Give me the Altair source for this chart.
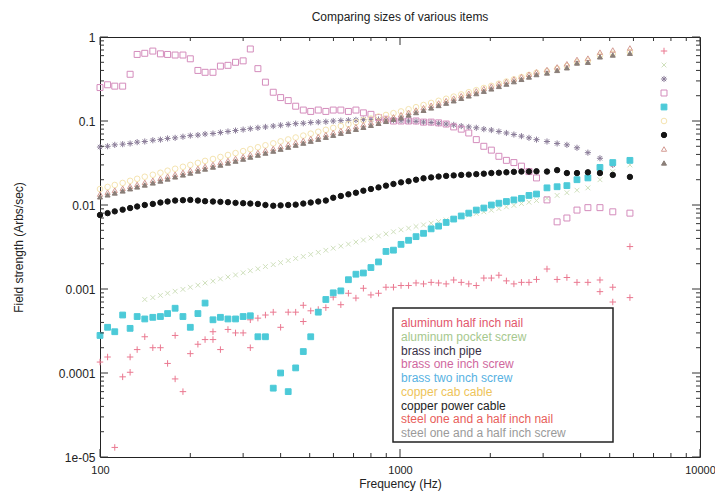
import altair as alt
import pandas as pd

TITLE = "Comparing sizes of various items"
X_TITLE = "Frequency (Hz)"
Y_TITLE = "Field strength (Arbs/sec)"

SERIES = [
    "aluminum half inch nail",
    "aluminum pocket screw",
    "brass inch pipe",
    "brass one inch screw",
    "brass two inch screw",
    "copper cab cable",
    "copper power cable",
    "steel one and a half inch nail",
    "steel one and a half inch screw",
]

FREQ = [100, 106, 112, 119, 126, 133, 141, 150, 159, 168,
        178, 189, 200, 212, 224, 238, 252, 267, 283, 300,
        317, 336, 356, 378, 400, 424, 449, 476, 504, 534,
        566, 599, 635, 673, 713, 755, 800, 848, 898, 951,
        1008, 1068, 1131, 1198, 1270, 1345, 1425, 1510, 1600, 1695,
        1796, 1903, 2016, 2136, 2263, 2397, 2540, 2691, 2851, 3090,
        3340, 3600, 3890, 4230, 4640, 5120, 5840]

AL_NAIL = [1.35e-4, 1.55e-4, None, None, 1.55e-4, 1.9e-4, 2.7e-4, 2.0e-4, 2.0e-4, None,
           2.8e-4, None, 1.7e-4, 2.2e-4, 2.5e-4, 3.1e-4, 1.9e-4, 3.3e-4, 3.0e-4, 3.0e-4,
           2.0e-4, 4.5e-4, 4.9e-4, 5.3e-4, 3.5e-4, 5.3e-4, 5.3e-4, 6.4e-4, 5.5e-4, 5.7e-4,
           6.0e-4, 8.0e-4, 6.5e-4, 8.9e-4, 7.8e-4, 1.02e-3, 8.5e-4, 8.9e-4, 1.05e-3, 1.05e-3,
           1.1e-3, 1.1e-3, 1.18e-3, 1.15e-3, 1.2e-3, 1.18e-3, 1.15e-3, 1.28e-3, 1.2e-3, 1.15e-3,
           1.1e-3, 1.35e-3, 1.35e-3, 1.46e-3, 1.25e-3, 1.15e-3, 1.2e-3, 1.2e-3, 1.3e-3, 1.73e-3,
           1.3e-3, 1.37e-3, 1.2e-3, 1.2e-3, 1.28e-3, 1.05e-3, 3.2e-3]
AL_NAIL_LOW_FREQ = [112, 119, 126, 168, 178, 189, 238, 317, 476, 4640, 5120, 5840]
AL_NAIL_LOW = [1.3e-5, 9.0e-5, 1.02e-4, 1.3e-4, 8.5e-5, 6.0e-5, 2.5e-4, 4.3e-4, 4.1e-4, 9.3e-4, 7.0e-4, 7.9e-4]

AL_SCREW = [None, None, None, None, None, None, 7.5e-4, 7.9e-4, 8.4e-4, 8.9e-4,
            9.4e-4, 9.9e-4, 1.05e-3, 1.11e-3, 1.18e-3, 1.24e-3, 1.32e-3, 1.39e-3, 1.47e-3, 1.56e-3,
            1.65e-3, 1.74e-3, 1.85e-3, 1.95e-3, 2.06e-3, 2.18e-3, 2.31e-3, 2.44e-3, 2.58e-3, 2.73e-3,
            2.89e-3, 3.06e-3, 3.24e-3, 3.42e-3, 3.62e-3, 3.83e-3, 4.05e-3, 4.28e-3, 4.53e-3, 4.8e-3,
            5.07e-3, 5.3e-3, 5.55e-3, 5.8e-3, 6.07e-3, 6.34e-3, 6.63e-3, 6.93e-3, 7.25e-3, 7.59e-3,
            7.93e-3, 8.3e-3, 8.67e-3, 9.07e-3, 9.5e-3, 9.9e-3, 1.04e-2, 1.08e-2, 1.13e-2, 1.2e-2,
            1.3e-2, 1.4e-2, 1.5e-2, 1.6e-2, 2.0e-2, 2.5e-2, 3.0e-2]

BRASS_PIPE = [0.049, 0.050, 0.052, 0.053, 0.054, 0.056, 0.057, 0.059, 0.060, 0.062,
              0.063, 0.065, 0.067, 0.068, 0.070, 0.071, 0.073, 0.075, 0.077, 0.079,
              0.081, 0.083, 0.085, 0.087, 0.089, 0.091, 0.093, 0.094, 0.096, 0.097,
              0.098, 0.100, 0.101, 0.102, 0.103, 0.104, 0.104, 0.104, 0.103, 0.102,
              0.101, 0.100, 0.099, 0.097, 0.096, 0.094, 0.092, 0.090, 0.087, 0.085,
              0.083, 0.080, 0.078, 0.075, 0.072, 0.069, 0.066, 0.063, 0.060, 0.057,
              0.054, 0.052, 0.048, 0.042, 0.036, 0.030, None]

BRASS_ONE = [0.25, 0.27, 0.26, 0.26, 0.36, 0.62, 0.64, 0.68, 0.63, 0.62,
             0.61, 0.61, 0.55, 0.40, 0.38, 0.38, 0.45, 0.46, 0.50, 0.52,
             0.72, 0.42, 0.29, 0.22, 0.19, 0.175, 0.15, 0.135, 0.13, 0.135,
             0.13, 0.135, 0.135, 0.13, 0.135, 0.125, 0.12, 0.11, 0.105, 0.10,
             0.10, 0.10, 0.10, 0.097, 0.097, 0.095, 0.092, 0.085, 0.08, 0.072,
             0.06, 0.05, 0.045, 0.038, 0.034, 0.032, 0.029, 0.025, 0.021, 0.0115,
             0.0063, 0.007, 0.0087, 0.0093, 0.0093, 0.0083, 0.008]

BRASS_TWO = [2.8e-4, 3.5e-4, 3.1e-4, 4.9e-4, 3.4e-4, 4.7e-4, 4.4e-4, 4.6e-4, 4.7e-4, 5.1e-4,
             5.9e-4, 4.7e-4, 3.5e-4, 5.1e-4, 6.8e-4, 4.3e-4, 4.6e-4, 4.4e-4, 4.4e-4, 4.7e-4,
             4.8e-4, 2.7e-4, 2.7e-4, 6.6e-5, 1.0e-4, 6.0e-5, 1.15e-4, 1.8e-4, 2.7e-4, 5.3e-4,
             7.5e-4, 9.0e-4, 9.5e-4, 1.29e-3, 1.5e-3, 1.55e-3, 1.8e-3, 2.1e-3, 2.8e-3, 2.9e-3,
             3.4e-3, 3.8e-3, 4.2e-3, 4.6e-3, 5.2e-3, 5.6e-3, 6.2e-3, 6.8e-3, 7.4e-3, 8.0e-3,
             8.7e-3, 9.2e-3, 1.0e-2, 1.05e-2, 1.1e-2, 1.15e-2, 1.2e-2, 1.3e-2, 1.35e-2, 1.6e-2,
             1.65e-2, 1.7e-2, 2.0e-2, 2.1e-2, 2.8e-2, 3.2e-2, 3.4e-2]

COPPER_CAB = [0.0155, 0.0164, 0.0173, 0.0183, 0.0194, 0.0205, 0.0217, 0.0229, 0.0242, 0.0256,
              0.027, 0.0285, 0.030, 0.0317, 0.0335, 0.0353, 0.0373, 0.0394, 0.0415, 0.0438,
              0.0462, 0.0487, 0.0514, 0.0542, 0.0572, 0.0603, 0.0636, 0.067, 0.0707, 0.0745,
              0.0785, 0.0828, 0.0872, 0.0918, 0.0967, 0.102, 0.107, 0.113, 0.118, 0.124,
              0.130, 0.138, 0.146, 0.155, 0.164, 0.174, 0.184, 0.195, 0.207, 0.22,
              0.233, 0.247, 0.262, 0.278, 0.295, 0.313, 0.333, 0.354, 0.376, 0.39,
              0.42, 0.45, 0.50, 0.52, 0.60, 0.63, 0.66]

COPPER_POWER = [0.0076, 0.0080, 0.0084, 0.0088, 0.0092, 0.0096, 0.0100, 0.0103, 0.0107, 0.0110,
                0.0113, 0.0114, 0.0115, 0.0113, 0.0111, 0.0110, 0.0109, 0.0108, 0.0106, 0.0105,
                0.0104, 0.0103, 0.0100, 0.0098, 0.0099, 0.0100, 0.0101, 0.0104, 0.0107, 0.0110,
                0.0113, 0.0122, 0.0128, 0.0134, 0.0140, 0.0148, 0.0155, 0.0162, 0.0170, 0.0178,
                0.0186, 0.0192, 0.0200, 0.0208, 0.0213, 0.0218, 0.0222, 0.0225, 0.0228, 0.0230,
                0.0233, 0.0236, 0.0240, 0.0242, 0.0245, 0.0248, 0.0250, 0.0250, 0.0252, 0.0250,
                0.0260, 0.0240, 0.0240, 0.0245, 0.0240, 0.0228, 0.0216]

STEEL_NAIL = [0.0135, 0.0142, 0.015, 0.0158, 0.0167, 0.0176, 0.0186, 0.0197, 0.0208, 0.022,
              0.0232, 0.0245, 0.0259, 0.0273, 0.0288, 0.0304, 0.0321, 0.0339, 0.0358, 0.0378,
              0.040, 0.0422, 0.0446, 0.047, 0.0497, 0.0525, 0.0554, 0.0585, 0.0618, 0.0652,
              0.0689, 0.0727, 0.0768, 0.0811, 0.0856, 0.0904, 0.0955, 0.101, 0.106, 0.112,
              0.119, 0.127, 0.135, 0.144, 0.154, 0.164, 0.175, 0.187, 0.200, 0.214,
              0.228, 0.243, 0.260, 0.277, 0.296, 0.316, 0.337, 0.360, 0.384, 0.41,
              0.44, 0.48, 0.54, 0.56, 0.66, 0.70, 0.74]

STEEL_SCREW = [0.0125, 0.0132, 0.0139, 0.0147, 0.0156, 0.0164, 0.0173, 0.0183, 0.0193, 0.0204,
               0.0216, 0.0228, 0.024, 0.0254, 0.0268, 0.0283, 0.0299, 0.0316, 0.0333, 0.0352,
               0.0372, 0.0393, 0.0415, 0.0438, 0.0462, 0.0488, 0.0516, 0.0545, 0.0575, 0.0607,
               0.0641, 0.0677, 0.0715, 0.0755, 0.0797, 0.0841, 0.0888, 0.0938, 0.099, 0.105,
               0.110, 0.118, 0.126, 0.134, 0.143, 0.153, 0.163, 0.174, 0.186, 0.199,
               0.212, 0.226, 0.241, 0.258, 0.275, 0.294, 0.313, 0.334, 0.357, 0.373,
               0.40, 0.43, 0.49, 0.50, 0.58, 0.61, 0.64]

# styles
PLUS = "M-1,0L1,0M0,-1L0,1"
CROSS = "M-0.75,-0.75L0.75,0.75M-0.75,0.75L0.75,-0.75"
STAR = "M-1,0L1,0M0,-1L0,1M-0.7,-0.7L0.7,0.7M-0.7,0.7L0.7,-0.7"
SHAPES = [PLUS, CROSS, STAR, "square", "square", "circle", "circle", "triangle-up", "triangle-up"]
STROKES = ["#ea7890", "#cfe0bc", "#8a7c98", "#d48cbc", "#4ccad8", "#f5e4b0", "#141414", "#d49a92", "#8a7e78"]
FILLS = ["transparent", "transparent", "transparent", "transparent", "#4ccad8",
         "transparent", "#141414", "transparent", "#8a7e78"]
SIZES = [42, 25, 18, 50, 36, 25, 40, 30, 28]
TEXT_COLORS = ["#e2566c", "#a6c88e", "#3a3046", "#d0689e", "#58b2e2", "#eec45a", "#1e1e1e", "#e85e5a", "#9a9a9a"]

X_MAJOR = [100, 1000, 10000]
X_MINOR = [m * d for d in (100, 1000) for m in range(2, 10)]
Y_MAJOR = [1e-5, 1e-4, 1e-3, 1e-2, 1e-1, 1]
Y_MINOR = [m * d for d in (1e-5, 1e-4, 1e-3, 1e-2, 1e-1) for m in range(2, 10)]

all_values = [AL_NAIL, AL_SCREW, BRASS_PIPE, BRASS_ONE, BRASS_TWO, COPPER_CAB,
              COPPER_POWER, STEEL_NAIL, STEEL_SCREW]
rows = []
for name, vals in zip(SERIES, all_values):
    for f, v in zip(FREQ, vals):
        if v is not None:
            rows.append({"freq": f, "value": v, "series": name})
    if name == SERIES[0]:
        for f, v in zip(AL_NAIL_LOW_FREQ, AL_NAIL_LOW):
            rows.append({"freq": f, "value": v, "series": name})
df = pd.DataFrame(rows)

W, H = 600, 420


def xs():
    return alt.Scale(type="log", domain=[100, 10000], nice=False)


def ys():
    return alt.Scale(type="log", domain=[1e-5, 1], nice=False)


X_AXIS = alt.Axis(
    values=X_MAJOR, format="d", labelFlush=False, ticks=False, tickSize=0, domain=False,
    grid=False, labelPadding=7, labelFontSize=11, labelColor="#222",
    title=X_TITLE, titleFontSize=12, titleFontWeight="normal", titleColor="#222",
    titleX=300, titleY=26, titleBaseline="middle")

leg = alt.Legend(orient="none", legendX=559, legendY=7, title=None, labelExpr="''",
                 clipHeight=14, rowPadding=0, padding=0,
                 symbolStrokeWidth=1, direction="vertical")

points = alt.Chart(df).mark_point(filled=False, strokeWidth=1, opacity=1).encode(
    x=alt.X("freq:Q", scale=xs(), axis=X_AXIS),
    y=alt.Y("value:Q", scale=ys(), axis=alt.Axis(
        values=Y_MAJOR, labelExpr="datum.value < 5e-5 ? replace(format(datum.value, '.0e'), 'e-', 'e-0') : format(datum.value, '~g')",
        labelFlush=False, ticks=False, tickSize=0, domain=False, grid=False,
        labelPadding=5, labelFontSize=12, labelColor="#222",
        title=Y_TITLE, titleFontSize=12, titleFontWeight="normal", titleColor="#222",
        titleX=-82, titleY=210, titleBaseline="middle")),
    shape=alt.Shape("series:N", scale=alt.Scale(domain=SERIES, range=SHAPES), legend=leg),
    stroke=alt.Stroke("series:N", scale=alt.Scale(domain=SERIES, range=STROKES), legend=leg),
    fill=alt.Fill("series:N", scale=alt.Scale(domain=SERIES, range=FILLS), legend=leg),
    size=alt.Size("series:N", scale=alt.Scale(domain=SERIES, range=SIZES), legend=leg),
)


def xtick(vals, length, top):
    d = pd.DataFrame({"freq": vals})
    if top:
        yy, yy2 = alt.value(0), alt.value(length)
    else:
        yy, yy2 = alt.value(H), alt.value(H - length)
    return alt.Chart(d).mark_rule(color="#333", strokeWidth=1).encode(
        x=alt.X("freq:Q", scale=xs(), axis=X_AXIS), y=yy, y2=yy2)


def ytick(vals, length, right):
    d = pd.DataFrame({"v": vals})
    if right:
        xx, xx2 = alt.value(W), alt.value(W - length)
    else:
        xx, xx2 = alt.value(0), alt.value(length)
    return alt.Chart(d).mark_rule(color="#333", strokeWidth=1).encode(
        y=alt.Y("v:Q", scale=ys(), axis=None), x=xx, x2=xx2)


ticks = [xtick(X_MAJOR, 8, False), xtick(X_MAJOR, 8, True),
         xtick(X_MINOR, 4, False), xtick(X_MINOR, 4, True),
         ytick(Y_MAJOR, 8, False), ytick(Y_MAJOR, 8, True),
         ytick(Y_MINOR, 4, False), ytick(Y_MINOR, 4, True)]

leg_df = pd.DataFrame({"label": SERIES, "row": list(range(len(SERIES))), "tcolor": TEXT_COLORS})

box = alt.Chart(pd.DataFrame({"a": [0]})).mark_rect(fill="white", stroke="#222", strokeWidth=1.5).encode(
    x=alt.value(293), x2=alt.value(513), y=alt.value(271), y2=alt.value(405))

text = alt.Chart(leg_df).mark_text(align="left", baseline="middle", fontSize=12).encode(
    x=alt.value(301),
    y=alt.Y("row:Q", scale=alt.Scale(domain=[0, 8], range=[286, 396]), axis=None),
    text="label:N",
    color=alt.Color("tcolor:N", scale=None),
)

chart = alt.layer(points, *ticks, box, text).resolve_scale(y="independent").properties(
    width=W, height=H,
    title=alt.Title(TITLE, fontSize=12, fontWeight="normal", color="#222", offset=7,
                    anchor="middle", frame="group"),
    autosize=alt.AutoSizeParams(type="none"),
    padding={"left": 92, "top": 29, "right": 15, "bottom": 34},
).configure(font="Liberation Sans").configure_view(stroke="#222", strokeWidth=1)

chart.save("out.html", embed_options={"renderer": "svg", "actions": False})
